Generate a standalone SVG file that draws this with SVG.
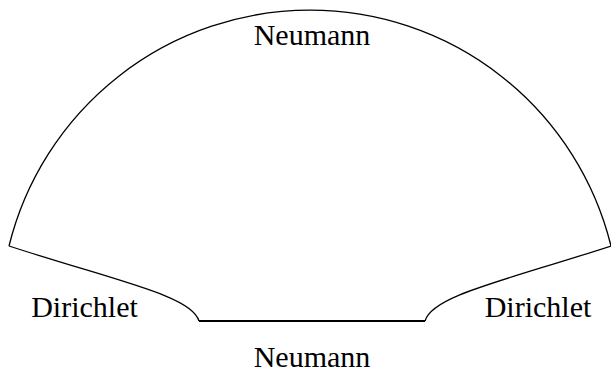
<svg xmlns="http://www.w3.org/2000/svg" width="611" height="374" viewBox="0 0 611 374">
<style>
.b{fill:none;stroke:#000;stroke-width:1.3}
.t{font-family:"Liberation Serif","Times New Roman",serif;font-size:30px;fill:#000;text-anchor:middle}
</style>
<rect width="611" height="374" fill="#fff"/>
<g id="connectors">
<path id="arc" class="b" d="M9,246 A310,310 0 0 1 611,246"/>
<path id="left-curve" class="b" d="M9,246 C120,282 192,296 199,321"/>
<path id="right-curve" class="b" d="M611,246 C500,282 432,296 425,321"/>
<path id="bottom" fill="none" stroke="#000" stroke-width="2.2" d="M199,321 H425"/>
</g>
<g id="label-top"><text class="t" x="312" y="45">Neumann</text></g>
<g id="label-bottom"><text class="t" x="312" y="367">Neumann</text></g>
<g id="label-left"><text class="t" x="84.5" y="317">Dirichlet</text></g>
<g id="label-right"><text class="t" x="538" y="317">Dirichlet</text></g>
</svg>
